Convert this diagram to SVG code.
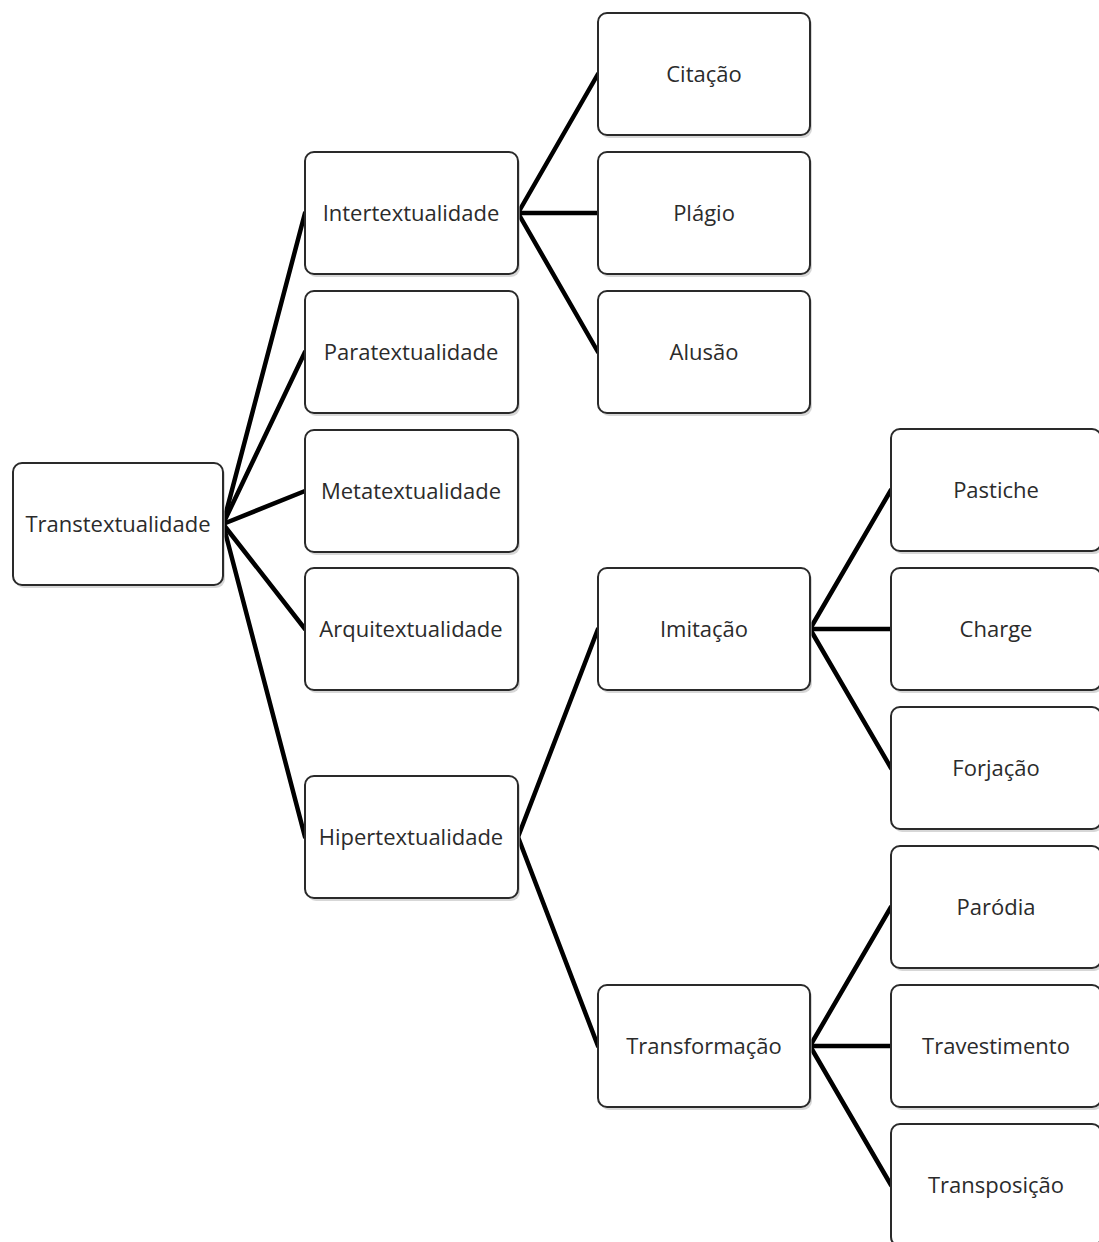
<svg xmlns="http://www.w3.org/2000/svg" width="1099" height="1242" viewBox="0 0 1099 1242">
<defs>
<style>
.box{fill:#fff;stroke:#2a2a2a;stroke-width:2}
.sh{fill:#bdbdbd;opacity:0.6}
.lbl{font-family:"Open Sans","Liberation Sans",sans-serif;font-size:22px;fill:#2b2b2b;text-anchor:middle}
.c{stroke:#000;stroke-width:4.5;fill:none;stroke-linecap:round}
</style>
</defs>
<rect width="1099" height="1242" fill="#fff"/>
<g id="connectors">
<line class="c" x1="223" y1="524" x2="305" y2="213"/>
<line class="c" x1="223" y1="524" x2="305" y2="352"/>
<line class="c" x1="223" y1="524" x2="305" y2="491"/>
<line class="c" x1="223" y1="524" x2="305" y2="629"/>
<line class="c" x1="223" y1="524" x2="305" y2="837"/>
<line class="c" x1="518" y1="213" x2="598" y2="74"/>
<line class="c" x1="518" y1="213" x2="598" y2="213"/>
<line class="c" x1="518" y1="213" x2="598" y2="352"/>
<line class="c" x1="518" y1="837" x2="598" y2="629"/>
<line class="c" x1="518" y1="837" x2="598" y2="1046"/>
<line class="c" x1="810" y1="629" x2="891" y2="490"/>
<line class="c" x1="810" y1="629" x2="891" y2="629"/>
<line class="c" x1="810" y1="629" x2="891" y2="768"/>
<line class="c" x1="810" y1="1046" x2="891" y2="907"/>
<line class="c" x1="810" y1="1046" x2="891" y2="1046"/>
<line class="c" x1="810" y1="1046" x2="891" y2="1185"/>
</g>
<g id="n-transtextualidade"><rect class="sh" x="15" y="466" width="210" height="122" rx="9"/><rect class="box" x="13" y="463" width="210" height="122" rx="9"/><text class="lbl" x="118" y="532">Transtextualidade</text></g>
<g id="n-intertextualidade"><rect class="sh" x="307" y="155" width="213" height="122" rx="9"/><rect class="box" x="305" y="152" width="213" height="122" rx="9"/><text class="lbl" x="411" y="221">Intertextualidade</text></g>
<g id="n-paratextualidade"><rect class="sh" x="307" y="294" width="213" height="122" rx="9"/><rect class="box" x="305" y="291" width="213" height="122" rx="9"/><text class="lbl" x="411" y="360">Paratextualidade</text></g>
<g id="n-metatextualidade"><rect class="sh" x="307" y="433" width="213" height="122" rx="9"/><rect class="box" x="305" y="430" width="213" height="122" rx="9"/><text class="lbl" x="411" y="499">Metatextualidade</text></g>
<g id="n-arquitextualidade"><rect class="sh" x="307" y="571" width="213" height="122" rx="9"/><rect class="box" x="305" y="568" width="213" height="122" rx="9"/><text class="lbl" x="411" y="637">Arquitextualidade</text></g>
<g id="n-hipertextualidade"><rect class="sh" x="307" y="779" width="213" height="122" rx="9"/><rect class="box" x="305" y="776" width="213" height="122" rx="9"/><text class="lbl" x="411" y="845">Hipertextualidade</text></g>
<g id="n-citacao"><rect class="sh" x="600" y="16" width="212" height="122" rx="9"/><rect class="box" x="598" y="13" width="212" height="122" rx="9"/><text class="lbl" x="704" y="82">Citação</text></g>
<g id="n-plagio"><rect class="sh" x="600" y="155" width="212" height="122" rx="9"/><rect class="box" x="598" y="152" width="212" height="122" rx="9"/><text class="lbl" x="704" y="221">Plágio</text></g>
<g id="n-alusao"><rect class="sh" x="600" y="294" width="212" height="122" rx="9"/><rect class="box" x="598" y="291" width="212" height="122" rx="9"/><text class="lbl" x="704" y="360">Alusão</text></g>
<g id="n-imitacao"><rect class="sh" x="600" y="571" width="212" height="122" rx="9"/><rect class="box" x="598" y="568" width="212" height="122" rx="9"/><text class="lbl" x="704" y="637">Imitação</text></g>
<g id="n-transformacao"><rect class="sh" x="600" y="988" width="212" height="122" rx="9"/><rect class="box" x="598" y="985" width="212" height="122" rx="9"/><text class="lbl" x="704" y="1054">Transformação</text></g>
<g id="n-pastiche"><rect class="sh" x="893" y="432" width="210" height="122" rx="9"/><rect class="box" x="891" y="429" width="210" height="122" rx="9"/><text class="lbl" x="996" y="498">Pastiche</text></g>
<g id="n-charge"><rect class="sh" x="893" y="571" width="210" height="122" rx="9"/><rect class="box" x="891" y="568" width="210" height="122" rx="9"/><text class="lbl" x="996" y="637">Charge</text></g>
<g id="n-forjacao"><rect class="sh" x="893" y="710" width="210" height="122" rx="9"/><rect class="box" x="891" y="707" width="210" height="122" rx="9"/><text class="lbl" x="996" y="776">Forjação</text></g>
<g id="n-parodia"><rect class="sh" x="893" y="849" width="210" height="122" rx="9"/><rect class="box" x="891" y="846" width="210" height="122" rx="9"/><text class="lbl" x="996" y="915">Paródia</text></g>
<g id="n-travestimento"><rect class="sh" x="893" y="988" width="210" height="122" rx="9"/><rect class="box" x="891" y="985" width="210" height="122" rx="9"/><text class="lbl" x="996" y="1054">Travestimento</text></g>
<g id="n-transposicao"><rect class="sh" x="893" y="1127" width="210" height="122" rx="9"/><rect class="box" x="891" y="1124" width="210" height="122" rx="9"/><text class="lbl" x="996" y="1193">Transposição</text></g>
</svg>
